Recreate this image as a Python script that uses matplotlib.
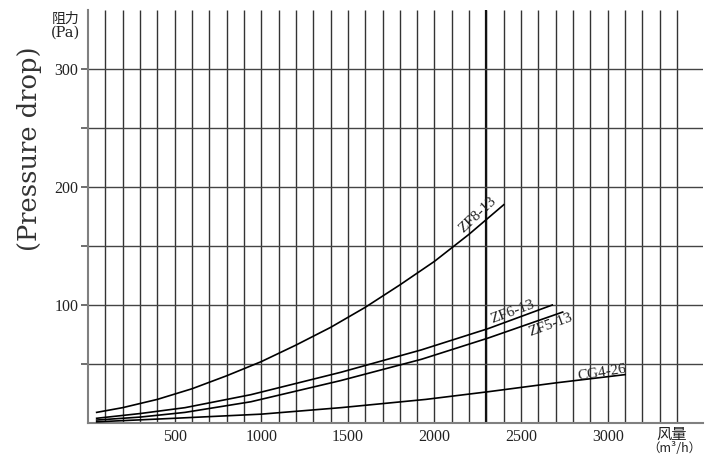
import matplotlib
matplotlib.use("Agg")
import matplotlib.pyplot as plt

# ---- data ----
zf8_x = [50, 200, 400, 600, 800, 1000, 1200, 1400, 1600, 1800, 2000, 2200, 2400]
zf8_y = [9, 13, 20, 29, 40, 52, 66, 81, 98, 117, 137, 160, 185]

zf6_x = [50, 300, 560, 940, 1460, 1925, 2310, 2680]
zf6_y = [4, 8, 13, 24, 43, 62, 80, 100]

zf5_x = [50, 300, 560, 940, 1460, 1925, 2310, 2740]
zf5_y = [2.5, 5, 9, 18, 36, 54, 72, 94]

cg4_x = [50, 500, 1000, 1460, 1950, 2310, 2700, 3100]
cg4_y = [1, 4, 7.5, 13, 20, 26.5, 34, 41]

series_labels = ["ZF8-13", "ZF6-13", "ZF5-13", "CG4-26"]
label_pos = [(2250, 176, 43), (2450, 94, 20), (2670, 83, 20), (2965, 42.5, 9)]

x_ticks = [500, 1000, 1500, 2000, 2500, 3000]
y_ticks = [50, 100, 150, 200, 250, 300]
y_tick_labels = ["", "100", "", "200", "", "300"]
x_grid = list(range(100, 3401, 100))
y_grid = [50, 100, 150, 200, 250, 300]

SERIF = ["Liberation Serif", "Noto Sans CJK SC", "DejaVu Sans"]
plt.rcParams['font.family'] = SERIF
TXT = "#222222"

fig = plt.figure(figsize=(7.18, 4.62), dpi=100)
ax = fig.add_axes([88 / 718, 39 / 462, (703 - 88) / 718, (423 - 10) / 462])
ax.set_xlim(0, 3550)
ax.set_ylim(0, 350)

# grid
ax.vlines(x_grid, 0, 350, colors="#333333", linewidth=1.0, zorder=1)
ax.vlines([2300], 0, 350, colors="#111111", linewidth=1.6, zorder=1)
ax.hlines(y_grid, 0, 3550, colors="#444444", linewidth=1.0, zorder=1)

# curves
for xs, ys in [(zf8_x, zf8_y), (zf6_x, zf6_y), (zf5_x, zf5_y), (cg4_x, cg4_y)]:
    ax.plot(xs, ys, color="black", linewidth=1.2, zorder=3)

for lab, (lx, ly, rot) in zip(series_labels, label_pos):
    ax.text(lx, ly, lab, rotation=rot, ha="center", va="center",
            fontsize=11, color=TXT, rotation_mode="anchor", zorder=4)

# spines
for s in ["top", "right"]:
    ax.spines[s].set_visible(False)
for s in ["left", "bottom"]:
    ax.spines[s].set_color("#808080")
    ax.spines[s].set_linewidth(1.5)

ax.set_xticks(x_ticks)
ax.set_xticklabels([str(v) for v in x_ticks], fontsize=11.5, color=TXT)
ax.tick_params(axis="x", length=0, pad=4)
ax.set_yticks(y_ticks)
ax.set_yticklabels(y_tick_labels, fontsize=11.5, color=TXT)
ax.tick_params(axis="y", length=5, width=1.2, color="#555555", pad=2)

# axis titles
fig.text(66 / 718, 1 - 19 / 462, "阻力", ha="center", va="center", fontsize=10,
         color=TXT, family=["Noto Sans CJK SC"])
fig.text(66 / 718, 1 - 33 / 462, "(Pa)", ha="center", va="center", fontsize=10.5,
         color=TXT, family=["DejaVu Serif"])
fig.text(672 / 718, 1 - 434 / 462, "风量", ha="center", va="center", fontsize=11,
         color=TXT, family=["Noto Sans CJK SC"])
fig.text(674 / 718, 1 - 449 / 462, "（m³/h）", ha="center", va="center", fontsize=9,
         color=TXT, family=["Noto Sans CJK SC", "DejaVu Sans"])
fig.text(30 / 718, 1 - 149 / 462, "(Pressure drop)", rotation=90, ha="center", va="center",
         fontsize=18.5, color="#333333", family=["DejaVu Serif"])

fig.savefig("out.png", dpi=100)
